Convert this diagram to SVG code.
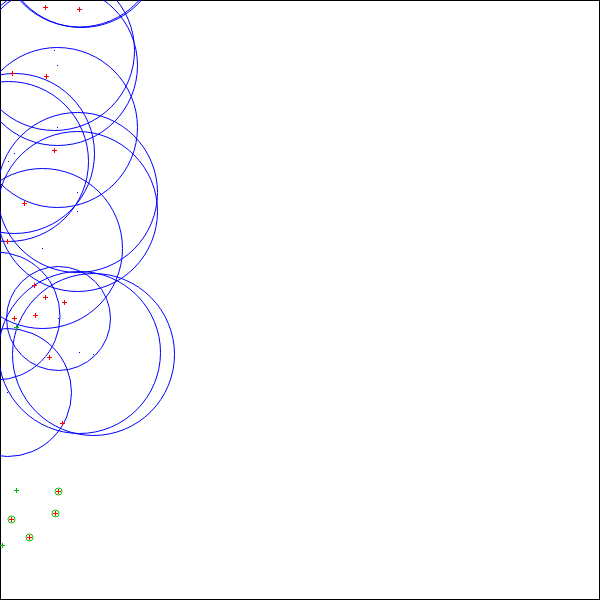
<svg xmlns="http://www.w3.org/2000/svg" width="600" height="600" viewBox="0 0 600 600">
<style>
.c{fill:none;stroke:#0000ff;stroke-width:1}
.ctr{fill:#0000ff}
.p{fill:none;stroke:#ff0000;stroke-width:1}
.gp{fill:none;stroke:#00c000;stroke-width:1}
.gc{fill:none;stroke:#00c000;stroke-width:1}
</style>
<defs>
<path id="x" d="M-2.5,0H2.5M0,-2.5V2.5"/>
</defs>
<rect x="0.5" y="0.5" width="599" height="599" fill="#ffffff" stroke="#000000"/>
<g id="circles" class="c">
<circle cx="79.5" cy="-53" r="80"/>
<circle cx="81.5" cy="-52" r="79.5"/>
<circle cx="-30" cy="-40" r="55"/>
<circle cx="54.5" cy="50.5" r="80"/>
<circle cx="57.5" cy="65.5" r="80"/>
<circle cx="57.5" cy="127.5" r="80"/>
<circle cx="14.5" cy="153.5" r="80"/>
<circle cx="8.5" cy="161.5" r="80"/>
<circle cx="77.5" cy="192.5" r="80"/>
<circle cx="77.5" cy="211.5" r="80"/>
<circle cx="42.5" cy="248.5" r="80"/>
<circle cx="58.5" cy="318.5" r="52"/>
<circle cx="79.5" cy="352.5" r="81"/>
<circle cx="93.5" cy="354.5" r="81"/>
<circle cx="7.5" cy="392.5" r="64"/>
<circle cx="-4" cy="316" r="64"/>
</g>
<g id="centers" class="ctr">
<rect x="54" y="50" width="1" height="1"/>
<rect x="57" y="65" width="1" height="1"/>
<rect x="57" y="127" width="1" height="1"/>
<rect x="14" y="153" width="1" height="1"/>
<rect x="8" y="161" width="1" height="1"/>
<rect x="77" y="192" width="1" height="1"/>
<rect x="77" y="211" width="1" height="1"/>
<rect x="42" y="248" width="1" height="1"/>
<rect x="58" y="318" width="1" height="1"/>
<rect x="79" y="352" width="1" height="1"/>
<rect x="93" y="354" width="1" height="1"/>
<rect x="7" y="392" width="1" height="1"/>
</g>
<g id="points" class="p">
<use href="#x" x="45.5" y="7.5"/>
<use href="#x" x="79.5" y="9.5"/>
<use href="#x" x="12.5" y="73.5"/>
<use href="#x" x="46.5" y="76.5"/>
<use href="#x" x="54.5" y="150.5"/>
<use href="#x" x="24.5" y="203.5"/>
<use href="#x" x="7.5" y="241.5"/>
<use href="#x" x="34.5" y="285.5"/>
<use href="#x" x="45.5" y="297.5"/>
<use href="#x" x="64.5" y="302.5"/>
<use href="#x" x="14.5" y="318.5"/>
<use href="#x" x="35.5" y="315.5"/>
<use href="#x" x="49.5" y="357.5"/>
<use href="#x" x="62.5" y="423.5"/>
<use href="#x" x="58.5" y="491.5"/>
<use href="#x" x="55.5" y="513.5"/>
<use href="#x" x="11.5" y="519.5"/>
<use href="#x" x="29.5" y="537.5"/>
</g>
<g id="green" class="gp">
<use href="#x" x="16.5" y="327.5"/>
<use href="#x" x="16.5" y="490.5"/>
<use href="#x" x="2.5" y="545.5"/>
<circle class="gc" cx="58.5" cy="491.5" r="3.5"/>
<circle class="gc" cx="55.5" cy="513.5" r="3.5"/>
<circle class="gc" cx="11.5" cy="519.5" r="3.5"/>
<circle class="gc" cx="29.5" cy="537.5" r="3.5"/>
</g>
</svg>
